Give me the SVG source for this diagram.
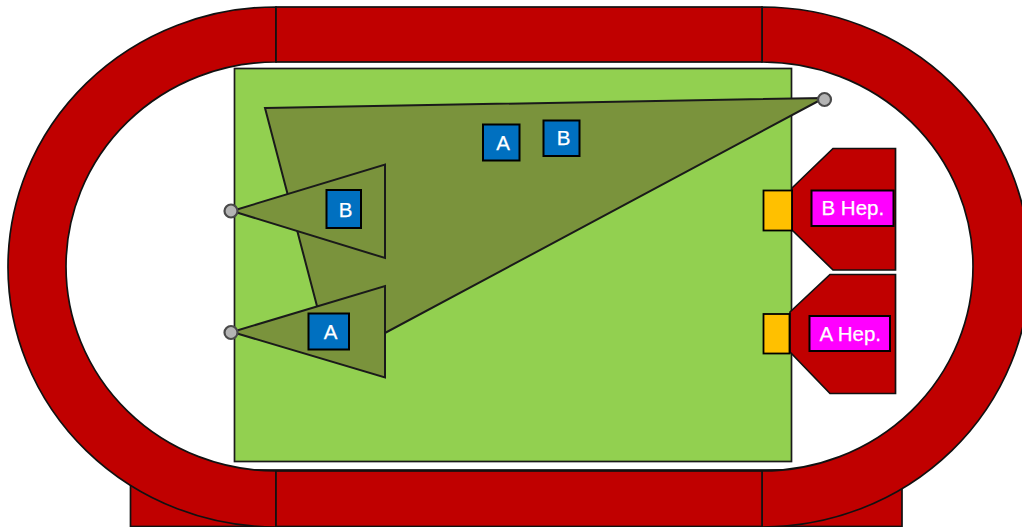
<svg xmlns="http://www.w3.org/2000/svg" width="1022" height="527" viewBox="0 0 1022 527">
<style>
.r{fill:#c00000;stroke:#111;stroke-width:1.7}
.t{fill:#7a933c;stroke:#1a1a1a;stroke-width:2;stroke-linejoin:miter}
.c{fill:#b4b4b4;stroke:#4a4a4a;stroke-width:2.200}
.y{fill:#ffc000;stroke:#000;stroke-width:1.800}
.m{fill:#ff00ff;stroke:#000;stroke-width:2}
.b{fill:#0070c0;stroke:#000;stroke-width:2}
text{font-family:"Liberation Sans",Arial,sans-serif;font-size:20.500px;fill:#fff;stroke:#fff;stroke-width:.25}
</style>
<rect width="1022" height="527" fill="#fff"/>
<g id="track">
<rect class="r" x="130.500" y="470" width="771.500" height="56.500"/>
<path class="r" d="M276 7A268 260 0 0 0 276 527V471A210 204.500 0 0 1 276 62Z"/>
<path class="r" d="M762 7A268 260 0 0 1 762 527V471A211 204.500 0 0 0 762 62Z"/>
<rect class="r" x="276" y="7" width="486" height="55"/>
<rect class="r" x="276" y="471" width="486" height="55.500"/>
</g>
<g id="field"><rect x="234.500" y="68.500" width="557" height="393" fill="#92d050" stroke="#1a1a1a" stroke-width="1.700"/></g>
<g id="hep-b"><polygon class="r" points="792,188 833,148.500 895.500,148.500 895.500,270 833,270 792,230"/><rect class="y" x="763.500" y="190.500" width="28.500" height="40"/><rect class="m" x="811.500" y="190.500" width="82" height="35.500"/><text x="821.500" y="215">B Hep.</text></g>
<g id="hep-a"><polygon class="r" points="790,312 830,274.500 895.500,274.500 895.500,393.500 830,393.500 790,352"/><rect class="y" x="763.500" y="314" width="26" height="39.500"/><rect class="m" x="809.500" y="316" width="80.500" height="35"/><text x="819.500" y="341">A Hep.</text></g>
<g id="connectors">
<polygon class="t" points="265,108 824,98 385,333 328,348"/>
<polygon class="t" points="232,211 385,164.500 385,258"/>
<polygon class="t" points="232,332 385,286 385,377.500"/>
</g>
<g id="pivot-1"><circle class="c" cx="231" cy="211" r="6.500"/></g>
<g id="pivot-2"><circle class="c" cx="231" cy="332.500" r="6.500"/></g>
<g id="pivot-3"><circle class="c" cx="824.500" cy="99.500" r="6.500"/></g>
<g id="a-top"><rect class="b" x="483" y="124.500" width="36.500" height="36"/><text x="503" y="149.500" text-anchor="middle">A</text></g>
<g id="b-top"><rect class="b" x="543.500" y="120.500" width="36" height="35.500"/><text x="563.500" y="145" text-anchor="middle">B</text></g>
<g id="b-left"><rect class="b" x="326.500" y="190" width="34.500" height="38"/><text x="345.500" y="216.500" text-anchor="middle">B</text></g>
<g id="a-left"><rect class="b" x="308.500" y="313.500" width="40.500" height="36"/><text x="330.500" y="338.500" text-anchor="middle">A</text></g>
</svg>
